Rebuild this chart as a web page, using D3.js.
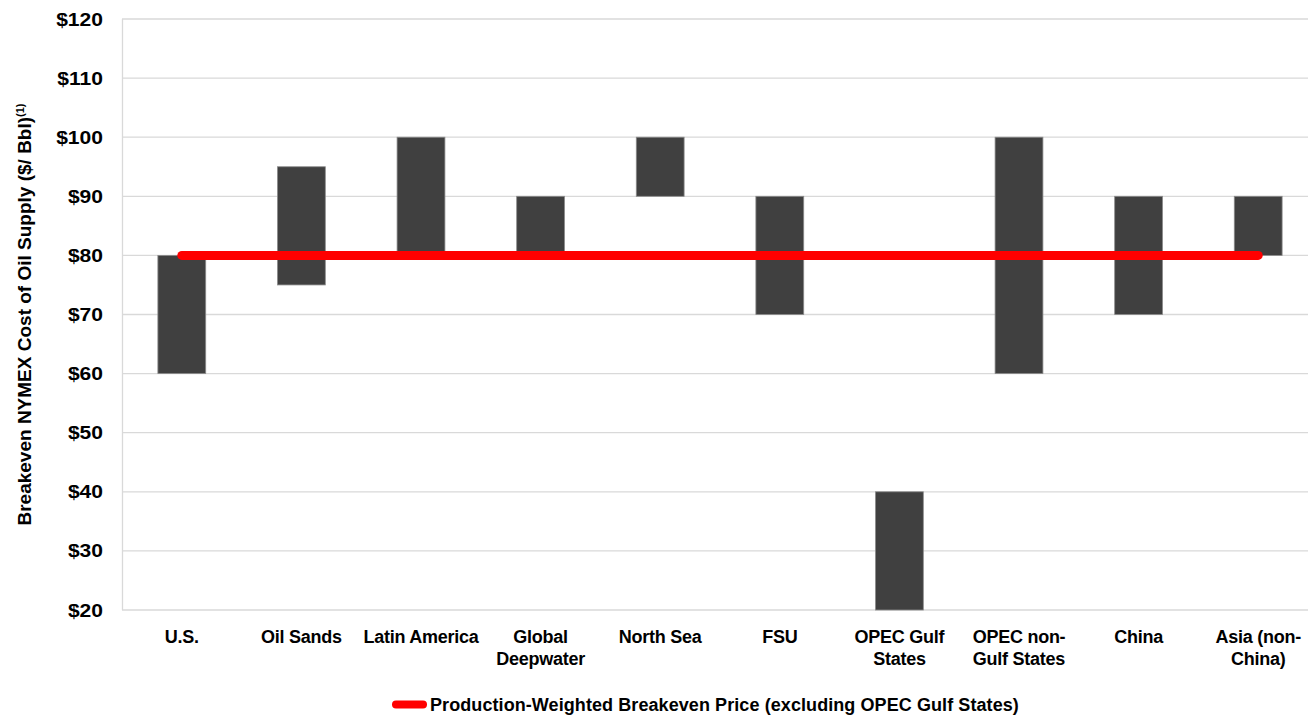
<!DOCTYPE html>
<html>
<head>
<meta charset="utf-8">
<script src="https://cdn.jsdelivr.net/npm/d3@7"></script>
<style>
  html, body { margin: 0; padding: 0; background: #fff; }
  svg { display: block; font-family: "Liberation Sans", Arial, sans-serif; }
</style>
</head>
<body>
<svg id="chart" width="1308" height="717"></svg>
<script>
// Breakeven cost ranges by supply region ($/Bbl)
const categories = [
  ["U.S."], ["Oil Sands"], ["Latin America"], ["Global", "Deepwater"], ["North Sea"],
  ["FSU"], ["OPEC Gulf", "States"], ["OPEC non-", "Gulf States"], ["China"], ["Asia (non-", "China)"]
];
const lowValues  = [60, 75, 80, 80, 90, 70, 20, 60, 70, 80];
const highValues = [80, 95, 100, 90, 100, 90, 40, 100, 90, 90];
const weightedBreakeven = 80;
const yTicks = [20, 30, 40, 50, 60, 70, 80, 90, 100, 110, 120];
const legendLabel = "Production-Weighted Breakeven Price (excluding OPEC Gulf States)";
const yTitle = "Breakeven NYMEX Cost of Oil Supply ($/ Bbl)";

const svg = d3.select("#chart");
const margin = { left: 122, right: -10, top: 19, bottom: 107 };
const W = 1308, H = 717;

const keys = categories.map((c, i) => i);
const x = d3.scaleBand().domain(keys)
  .range([margin.left, W - margin.right])
  .paddingInner(0.6).paddingOuter(0.3);
const y = d3.scaleLinear().domain([20, 120]).range([H - margin.bottom, margin.top]);

// gridlines
svg.append("g").selectAll("line").data(yTicks).join("line")
  .attr("x1", margin.left).attr("x2", W)
  .attr("y1", d => y(d)).attr("y2", d => y(d))
  .attr("stroke", "#d9d9d9").attr("stroke-width", 1.3);

// left axis line
svg.append("line")
  .attr("x1", margin.left + 0.5).attr("x2", margin.left + 0.5)
  .attr("y1", y(120)).attr("y2", y(20))
  .attr("stroke", "#d9d9d9").attr("stroke-width", 1.3);

// y tick labels (slightly widened bold figures)
svg.append("g").selectAll("text").data(yTicks).join("text")
  .attr("transform", d => `translate(103,${y(d) + 6.5}) scale(1.17,1)`)
  .attr("text-anchor", "end").attr("font-size", 18).attr("font-weight", "bold")
  .attr("fill", "#000").text(d => "$" + d);

// floating range bars
svg.append("g").selectAll("rect").data(keys).join("rect")
  .attr("x", i => x(i)).attr("width", x.bandwidth())
  .attr("y", i => y(highValues[i]))
  .attr("height", i => y(lowValues[i]) - y(highValues[i]))
  .attr("fill", "#404040").attr("stroke", "#8c8c8c").attr("stroke-width", 0.8);

// production-weighted breakeven line
const cx = i => x(i) + x.bandwidth() / 2;
svg.append("line")
  .attr("x1", cx(0)).attr("x2", cx(keys.length - 1))
  .attr("y1", y(weightedBreakeven)).attr("y2", y(weightedBreakeven))
  .attr("stroke", "#ff0000").attr("stroke-width", 9).attr("stroke-linecap", "round");

// category labels
const xl = svg.append("g").selectAll("text").data(keys).join("text")
  .attr("x", i => cx(i)).attr("y", 643)
  .attr("text-anchor", "middle").attr("font-size", 18).attr("font-weight", "bold")
  .attr("letter-spacing", -0.25).attr("fill", "#000");
xl.selectAll("tspan").data(i => categories[i]).join("tspan")
  .attr("x", function () { return d3.select(this.parentNode).attr("x"); })
  .attr("dy", (d, j) => j === 0 ? 0 : 22)
  .text(d => d);

// y axis title
const yt = svg.append("text")
  .attr("transform", `translate(31,${(y(20) + y(120)) / 2}) rotate(-90)`)
  .attr("text-anchor", "middle").attr("font-size", 19).attr("font-weight", "bold")
  .attr("letter-spacing", 0).attr("fill", "#000");
yt.append("tspan").text(yTitle);
yt.append("tspan").attr("font-size", 11).attr("dy", -7).text("(1)");

// legend
const lg = svg.append("g");
lg.append("line").attr("x1", 396).attr("x2", 423).attr("y1", 704.5).attr("y2", 704.5)
  .attr("stroke", "#ff0000").attr("stroke-width", 8).attr("stroke-linecap", "round");
lg.append("text").attr("x", 430).attr("y", 711)
  .attr("font-size", 18).attr("font-weight", "bold").attr("letter-spacing", 0.08)
  .attr("fill", "#000").text(legendLabel);
</script>
</body>
</html>
